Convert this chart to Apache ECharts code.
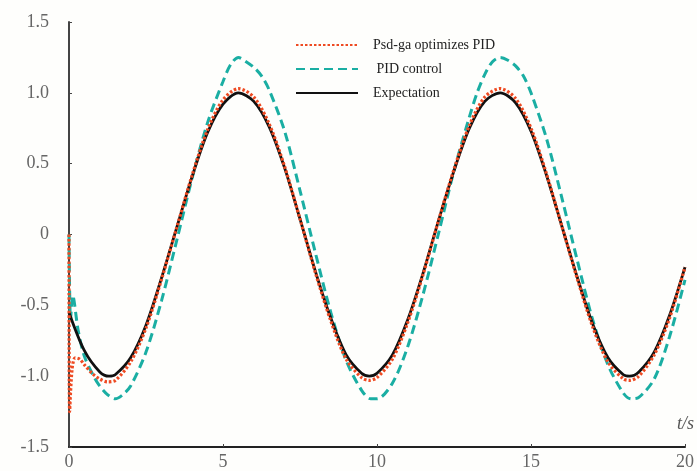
<!DOCTYPE html>
<html>
<head>
<meta charset="utf-8">
<title>PID tracking</title>
<script src="https://cdn.jsdelivr.net/npm/echarts@6/dist/echarts.min.js"></script>
<style>
  html, body { margin: 0; padding: 0; background: #fefefc; }
  #chart { width: 697px; height: 471px; }
</style>
</head>
<body>
<div id="chart"></div>
<script>
// 期望曲线 (Expectation)
var tExpect = [0, 0.5, 1, 1.3, 1.5, 2, 2.5, 3, 3.5, 4, 4.5, 5, 5.5, 6, 6.5, 7, 7.5, 8, 8.5, 9, 9.5,
  9.75, 10, 10.5, 11, 11.5, 12, 12.5, 13, 13.5, 14, 14.5, 15, 15.5, 16, 16.5, 17, 17.5, 18, 18.2,
  18.5, 19, 19.5, 20];
var yExpect = [-0.55, -0.82, -0.97, -1.0, -0.99, -0.87, -0.64, -0.31, 0.05, 0.41, 0.72, 0.92, 1.0, 0.94,
  0.76, 0.47, 0.11, -0.26, -0.59, -0.85, -0.98, -1.0, -0.98, -0.85, -0.6, -0.27, 0.1, 0.45, 0.75,
  0.94, 1.0, 0.93, 0.73, 0.42, 0.06, -0.3, -0.63, -0.87, -0.99, -1.0, -0.97, -0.83, -0.57, -0.23];

// Psd-ga optimizes PID
var tPsd = [0, 0.02, 0.1, 0.2, 0.35, 0.5, 0.75, 1, 1.25, 1.5, 2, 2.5, 3, 3.5, 4, 4.5, 5, 5.5, 6, 6.5,
  7, 7.5, 8, 8.5, 9, 9.5, 9.75, 10, 10.5, 11, 11.5, 12, 12.5, 13, 13.5, 14, 14.5, 15, 15.5, 16, 16.5,
  17, 17.5, 18, 18.2, 18.5, 19, 19.5, 20];
var yPsd = [0, -1.25, -0.95, -0.87, -0.88, -0.92, -0.98, -1.02, -1.04, -1.03, -0.9, -0.66, -0.32, 0.05,
  0.42, 0.74, 0.95, 1.03, 0.97, 0.78, 0.48, 0.11, -0.27, -0.61, -0.88, -1.01, -1.03, -1.01, -0.88,
  -0.62, -0.28, 0.1, 0.46, 0.77, 0.97, 1.03, 0.96, 0.75, 0.43, 0.06, -0.31, -0.65, -0.9, -1.02,
  -1.03, -1.0, -0.85, -0.59, -0.23];

// PID control
var tPid = [0, 0.05, 0.12, 0.3, 0.5, 0.8, 1, 1.25, 1.5, 1.75, 2, 2.5, 3, 3.5, 4, 4.5, 5, 5.25, 5.5,
  5.75, 6, 6.25, 6.5, 7, 7.5, 8, 8.5, 9, 9.5, 9.8, 10, 10.5, 11, 11.5, 12, 12.5, 13, 13.25, 13.5,
  13.75, 14, 14.25, 14.5, 14.75, 15, 15.5, 16, 16.5, 17, 17.5, 18, 18.25, 18.5, 19, 19.5, 20];
var yPid = [0, -0.6, -0.43, -0.68, -0.86, -1.0, -1.07, -1.13, -1.16, -1.13, -1.07, -0.83, -0.47, -0.04,
  0.4, 0.79, 1.08, 1.2, 1.25, 1.22, 1.18, 1.12, 1.02, 0.73, 0.31, -0.13, -0.55, -0.89, -1.1, -1.16,
  -1.16, -1.05, -0.79, -0.42, 0.01, 0.45, 0.83, 1.0, 1.13, 1.22, 1.25, 1.23, 1.19, 1.12, 1.0, 0.68,
  0.26, -0.18, -0.6, -0.92, -1.12, -1.16, -1.15, -1.02, -0.72, -0.32];

var legendNames = ['Psd-ga optimizes PID', ' PID control', 'Expectation'];

function pairs(ts, ys) {
  return ts.map(function (t, i) { return [t, ys[i]]; });
}

var chart = echarts.init(document.getElementById('chart'));

var option = {
  backgroundColor: '#fefefc',
  animation: false,
  grid: { left: 69, right: 7, top: 22, bottom: 23 },
  legend: {
    orient: 'vertical',
    left: 290,
    top: 33,
    itemWidth: 62,
    itemHeight: 14,
    itemGap: 10,
    data: legendNames,
    itemStyle: { opacity: 0 },
    textStyle: {
      fontFamily: 'Liberation Serif',
      fontSize: 14,
      color: '#222',
      padding: [0, 0, 0, 10]
    }
  },
  xAxis: {
    type: 'value',
    min: 0,
    max: 20,
    interval: 5,
    name: 't/s',
    nameLocation: 'end',
    nameGap: 9,
    nameTextStyle: {
      fontFamily: 'Liberation Serif',
      fontStyle: 'italic',
      fontSize: 18,
      color: '#555',
      align: 'right',
      verticalAlign: 'bottom',
      padding: [0, 0, 14, 0]
    },
    splitLine: { show: false },
    axisLine: { onZero: false, lineStyle: { color: '#222', width: 2 } },
    axisTick: { inside: true, length: 3, lineStyle: { color: '#444' } },
    axisLabel: {
      margin: 6,
      fontFamily: 'Liberation Serif',
      fontSize: 18,
      color: '#666'
    }
  },
  yAxis: {
    type: 'value',
    min: -1.5,
    max: 1.5,
    interval: 0.5,
    splitLine: { show: false },
    axisLine: { show: true, onZero: false, lineStyle: { color: '#444', width: 2 } },
    axisTick: { show: true, inside: true, length: 3, lineStyle: { color: '#444' } },
    axisLabel: {
      margin: 20,
      fontFamily: 'Liberation Serif',
      fontSize: 18,
      color: '#666',
      formatter: function (v) { return v === 0 ? '0' : v.toFixed(1); }
    }
  },
  series: [
    {
      name: legendNames[1],
      type: 'line',
      showSymbol: false,
      symbol: 'none',
      smooth: 0.3,
      data: pairs(tPid, yPid),
      itemStyle: { color: '#1aaea3' },
      lineStyle: { color: '#1aaea3', width: 3, type: [9, 5] },
      z: 2
    },
    {
      name: legendNames[2],
      type: 'line',
      showSymbol: false,
      symbol: 'none',
      smooth: 0.3,
      data: pairs(tExpect, yExpect),
      itemStyle: { color: '#111' },
      lineStyle: { color: '#111', width: 2.8 },
      z: 3
    },
    {
      name: legendNames[0],
      type: 'line',
      showSymbol: false,
      symbol: 'none',
      smooth: 0.3,
      data: pairs(tPsd, yPsd),
      itemStyle: { color: '#ee4a22' },
      lineStyle: { color: '#ee4a22', width: 3.2, type: [2.5, 2] },
      z: 4
    }
  ]
};

chart.setOption(option);
</script>
</body>
</html>
